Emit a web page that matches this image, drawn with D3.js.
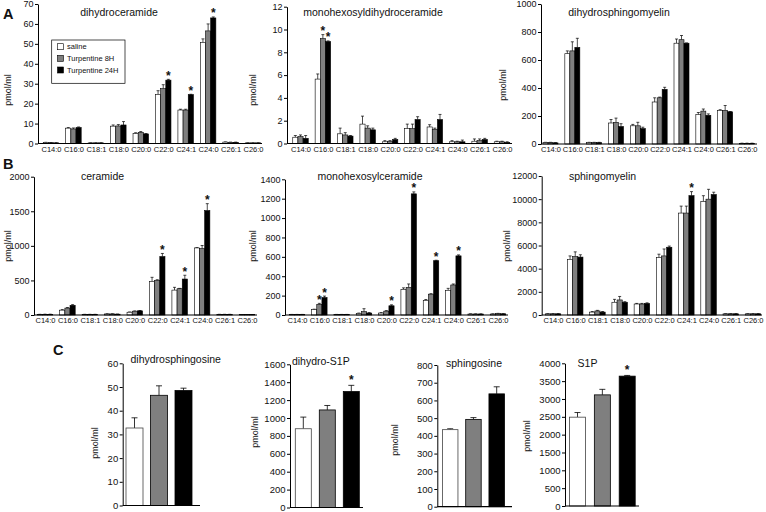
<!DOCTYPE html>
<html><head><meta charset="utf-8">
<script src="https://cdn.jsdelivr.net/npm/d3@7"></script>
<style>
body{margin:0;background:#fff}
svg{display:block}
text{font-family:"Liberation Sans",Arial,Helvetica,sans-serif;fill:#111}
</style>
</head><body><svg id="c" width="766" height="512"></svg>
<script>
// ---------- DATA ----------
const cats = ["C14:0","C16:0","C18:1","C18:0","C20:0","C22:0","C24:1","C24:0","C26:1","C26:0"];
const seriesNames = ["saline","Turpentine 8H","Turpentine 24H"];

// A: dihydroceramide (mean, sd) per series [saline, 8H, 24H]
const dhCerMean = [
  [0.5,7.7,0.3,8.7,5.0,24.6,16.8,50.7,0.7,0.3],
  [0.4,7.3,0.3,8.8,5.6,27.5,16.8,56.5,0.6,0.3],
  [0.3,8.0,0.3,9.3,4.8,31.8,24.5,63.0,0.6,0.3]];
const dhCerErr = [
  [0.1,0.3,0.05,0.6,0.4,1.9,0.4,1.8,0.1,0.05],
  [0.1,0.5,0.05,0.7,0.4,2.0,0.4,3.5,0.1,0.05],
  [0.1,0.3,0.05,1.7,0.2,0.4,0.2,0.5,0.1,0.05]];
const dhCerStars = [[5,2],[6,2],[7,2]];

// A: monohexosyldihydroceramide
const mhDhCerMean = [
  [0.55,5.65,0.85,1.7,0.15,1.3,1.45,0.15,0.2,0.15],
  [0.6,9.2,0.75,1.35,0.2,1.3,1.25,0.15,0.25,0.15],
  [0.45,8.95,0.65,1.2,0.35,2.1,2.1,0.15,0.35,0.1]];
const mhDhCerErr = [
  [0.15,0.45,0.5,0.7,0.1,0.4,0.2,0.1,0.2,0.05],
  [0.15,0.35,0.2,0.2,0.05,0.4,0.1,0.05,0.15,0.05],
  [0.25,0.05,0.05,0.15,0.1,0.25,0.45,0.15,0.1,0.05]];
const mhDhCerStars = [[1,1],[1,2]];

// A: dihydrosphingomyelin
const dhSmMean = [
  [10,645,10,150,130,300,720,210,240,5],
  [10,665,10,155,130,330,745,235,240,5],
  [8,690,10,125,110,390,720,205,230,5]];
const dhSmErr = [
  [2,20,2,25,10,30,30,15,5,1],
  [2,65,2,30,25,5,30,15,35,1],
  [2,65,2,20,10,15,2,10,2,1]];
const dhSmStars = [];

// B: ceramide
const cerMean = [
  [8,70,8,15,40,485,360,970,8,5],
  [10,100,8,15,55,500,380,960,8,5],
  [10,140,8,12,60,845,520,1510,8,5]];
const cerErr = [
  [2,8,2,3,4,60,40,5,2,1],
  [2,8,2,3,4,10,5,45,2,1],
  [2,10,2,2,5,45,55,100,2,1]];
const cerStars = [[5,2],[6,2],[7,2]];

// B: monohexosylceramide
const mhCerMean = [
  [5,55,5,15,20,265,150,255,10,10],
  [5,110,5,35,40,285,215,310,10,15],
  [5,180,5,20,95,1250,560,610,10,12]];
const mhCerErr = [
  [1,5,1,5,5,15,10,20,2,2],
  [1,10,1,30,5,35,5,10,2,2],
  [1,15,1,5,10,20,5,10,2,2]];
const mhCerStars = [[1,1],[1,2],[4,2],[5,2],[6,2],[7,2]];

// B: sphingomyelin
const smMean = [
  [100,4800,250,1100,950,4950,8800,9800,100,100],
  [100,5050,350,1300,950,5100,8800,10000,100,100],
  [100,5000,250,1100,1000,5850,10300,10400,100,100]];
const smErr = [
  [20,300,50,250,50,300,600,500,20,20],
  [20,400,50,300,50,600,600,850,20,20],
  [20,200,50,50,50,100,350,200,20,20]];
const smStars = [[6,2]];

// C: single-value panels
const dhSphMean = [32.7,46.5,48.5],  dhSphErr = [4.3,4.0,1.0],  dhSphStars = [];
const dhS1PMean = [880,1090,1295],   dhS1PErr = [130,50,70],    dhS1PStars = [2];
const sphMean   = [435,493,637],     sphErr   = [5,10,40],      sphStars = [];
const s1pMean   = [2490,3115,3640],  s1pErr   = [130,155,20],   s1pStars = [2];

// ---------- DRAW ----------
const FILL = ["#ffffff","#7f7f7f","#000000"];
const svg = d3.select("#c");

function yAxis(g, y, ticks, x, fs) {
  const a = g.append("g").attr("transform", `translate(${x},0)`)
    .call(d3.axisLeft(y).tickValues(ticks).tickFormat(d3.format("d"))
      .tickSize(3).tickSizeOuter(0).tickPadding(1.5));
  a.select(".domain").attr("stroke", "#000").attr("stroke-width", 1);
  a.selectAll(".tick line").attr("stroke", "#000");
  a.selectAll(".tick text").attr("font-size", fs);
}
function yLabel(g, x, y) {
  g.append("text").attr("transform", `translate(${x},${y}) rotate(-90)`)
    .attr("text-anchor", "middle").attr("dy", "0.35em").attr("font-size", 9).text("pmol/ml");
}
function title(g, t, x, y) {
  g.append("text").attr("x", x).attr("y", y).attr("text-anchor", "middle")
    .attr("font-size", 10.5).text(t);
}

function grouped(p) {
  const g = svg.append("g");
  const x = d3.scalePoint().domain(cats).range([p.c0, p.cN]);
  const xs = d3.scaleBand().domain([0,1,2]).range([-p.gw/2, p.gw/2]);
  const y = d3.scaleLinear().domain([0, p.max]).range([p.yBot, p.yTop]);
  const bw = xs.bandwidth();
  p.mean.forEach((ser, si) => {
    const rows = ser.map((v, i) => ({v, e: p.err[si][i], c: cats[i]}));
    g.selectAll(null).data(rows).join("line")
      .attr("x1", d => x(d.c) + xs(si) + bw/2).attr("x2", d => x(d.c) + xs(si) + bw/2)
      .attr("y1", d => y(d.v)).attr("y2", d => y(d.v + d.e))
      .attr("stroke", "#000").attr("stroke-width", 0.7);
    g.selectAll(null).data(rows).join("line")
      .attr("x1", d => x(d.c) + xs(si) + bw/2 - 1.5).attr("x2", d => x(d.c) + xs(si) + bw/2 + 1.5)
      .attr("y1", d => y(d.v + d.e)).attr("y2", d => y(d.v + d.e))
      .attr("stroke", "#000").attr("stroke-width", 0.7);
    g.selectAll(null).data(rows).join("rect")
      .attr("x", d => x(d.c) + xs(si)).attr("width", bw)
      .attr("y", d => y(d.v)).attr("height", d => Math.max(0, p.yBot - y(d.v)))
      .attr("fill", FILL[si]).attr("stroke", "#000").attr("stroke-width", 0.6);
  });
  g.selectAll(null).data(p.stars).join("text")
    .attr("x", d => x(cats[d[0]]) + xs(d[1]) + bw/2)
    .attr("y", d => y(p.mean[d[1]][d[0]] + p.err[d[1]][d[0]]) + 0.5)
    .attr("text-anchor", "middle").attr("font-size", 12).attr("font-weight", "bold").text("*");
  yAxis(g, y, d3.range(0, p.max + p.step/2, p.step), p.axisX, 9);
  g.append("line").attr("x1", p.axisX).attr("x2", p.xEnd).attr("y1", p.yBot).attr("y2", p.yBot)
    .attr("stroke", "#000").attr("stroke-width", 1);
  const xa = g.append("g").attr("transform", `translate(0,${p.yBot})`)
    .call(d3.axisBottom(x).tickSize(0).tickPadding(p.lp));
  xa.select(".domain").remove();
  xa.selectAll(".tick text").attr("font-size", 7.5);
  title(g, p.title, p.tx, p.ty);
  yLabel(g, p.ylx, p.yly);
  return g;
}

function single(p) {
  const g = svg.append("g");
  const x = d3.scalePoint().domain(seriesNames).range([p.c0, p.c2]);
  const y = d3.scaleLinear().domain([0, p.max]).range([p.yBot, p.yTop]);
  const rows = p.mean.map((v, i) => ({v, e: p.err[i], s: seriesNames[i], i}));
  g.selectAll(null).data(rows).join("line")
    .attr("x1", d => x(d.s)).attr("x2", d => x(d.s))
    .attr("y1", d => y(d.v)).attr("y2", d => y(d.v + d.e))
    .attr("stroke", "#000").attr("stroke-width", 0.8);
  g.selectAll(null).data(rows).join("line")
    .attr("x1", d => x(d.s) - 3).attr("x2", d => x(d.s) + 3)
    .attr("y1", d => y(d.v + d.e)).attr("y2", d => y(d.v + d.e))
    .attr("stroke", "#000").attr("stroke-width", 0.8);
  g.selectAll(null).data(rows).join("rect")
    .attr("x", d => x(d.s) - p.bw/2).attr("width", p.bw)
    .attr("y", d => y(d.v)).attr("height", d => p.yBot - y(d.v))
    .attr("fill", d => FILL[d.i]).attr("stroke", d => d.i === 0 ? "#444" : "#000").attr("stroke-width", 0.8);
  g.selectAll(null).data(p.stars).join("text")
    .attr("x", d => x(seriesNames[d]))
    .attr("y", d => y(p.mean[d] + p.err[d]) - 1)
    .attr("text-anchor", "middle").attr("font-size", 12).attr("font-weight", "bold").text("*");
  yAxis(g, y, d3.range(0, p.max + p.step/2, p.step), p.axisX, 9.5);
  g.append("line").attr("x1", p.axisX).attr("x2", p.xEnd).attr("y1", p.yBot).attr("y2", p.yBot)
    .attr("stroke", "#000").attr("stroke-width", 1.2);
  title(g, p.title, p.tx, p.ty);
  yLabel(g, p.ylx, p.yly);
}

// Row A
grouped({mean: dhCerMean, err: dhCerErr, stars: dhCerStars, max: 70, step: 10,
  axisX: 38, c0: 51, cN: 253, gw: 15.5, xEnd: 262, yTop: 4, yBot: 143.5, lp: 3,
  title: "dihydroceramide", tx: 119, ty: 16, ylx: 8, yly: 90});
grouped({mean: mhDhCerMean, err: mhDhCerErr, stars: mhDhCerStars, max: 12, step: 2,
  axisX: 287, c0: 300.5, cN: 502, gw: 15.5, xEnd: 512, yTop: 6.7, yBot: 143.5, lp: 3,
  title: "monohexosyldihydroceramide", tx: 373, ty: 16, ylx: 253, yly: 90});
grouped({mean: dhSmMean, err: dhSmErr, stars: dhSmStars, max: 1000, step: 200,
  axisX: 541, c0: 550.5, cN: 747, gw: 15, xEnd: 757, yTop: 4, yBot: 144, lp: 3,
  title: "dihydrosphingomyelin", tx: 619, ty: 16, ylx: 503, yly: 85});

// Row B
grouped({mean: cerMean, err: cerErr, stars: cerStars, max: 2000, step: 500,
  axisX: 34, c0: 45, cN: 247, gw: 15.5, xEnd: 257, yTop: 176.7, yBot: 315, lp: 2.5,
  title: "ceramide", tx: 102.5, ty: 180, ylx: 8, yly: 246});
grouped({mean: mhCerMean, err: mhCerErr, stars: mhCerStars, max: 1400, step: 200,
  axisX: 285, c0: 297, cN: 498, gw: 15.5, xEnd: 508, yTop: 179.3, yBot: 315, lp: 2.5,
  title: "monohexosylceramide", tx: 370, ty: 180, ylx: 253, yly: 246});
grouped({mean: smMean, err: smErr, stars: smStars, max: 12000, step: 2000,
  axisX: 541.7, c0: 553, cN: 753, gw: 15.5, xEnd: 762, yTop: 176, yBot: 315, lp: 2.5,
  title: "sphingomyelin", tx: 602.5, ty: 180, ylx: 507, yly: 246});

// Row C
single({mean: dhSphMean, err: dhSphErr, stars: dhSphStars, max: 60, step: 10,
  axisX: 122.7, c0: 134.5, c2: 183.5, bw: 17, xEnd: 200, yTop: 363.3, yBot: 505.5,
  title: "dihydrosphingosine", tx: 175.7, ty: 362.5, ylx: 95, yly: 443});
single({mean: dhS1PMean, err: dhS1PErr, stars: dhS1PStars, max: 1600, step: 200,
  axisX: 290, c0: 303.3, c2: 351.3, bw: 16, xEnd: 363, yTop: 364.3, yBot: 507.5,
  title: "dihydro-S1P", tx: 320.8, ty: 364.5, ylx: 255, yly: 432});
single({mean: sphMean, err: sphErr, stars: sphStars, max: 800, step: 100,
  axisX: 437.3, c0: 450.2, c2: 496.7, bw: 15.5, xEnd: 512, yTop: 365, yBot: 506.7,
  title: "sphingosine", tx: 474, ty: 367, ylx: 395, yly: 440});
single({mean: s1pMean, err: s1pErr, stars: s1pStars, max: 4000, step: 500,
  axisX: 565, c0: 577.5, c2: 627.2, bw: 16, xEnd: 639, yTop: 363.3, yBot: 506,
  title: "S1P", tx: 587.5, ty: 367, ylx: 526.7, yly: 436});

// Legend (panel A, dihydroceramide)
const lg = svg.append("g");
lg.append("rect").attr("x", 51.7).attr("y", 40).attr("width", 73.3).attr("height", 43.3)
  .attr("fill", "#fff").attr("stroke", "#000").attr("stroke-width", 0.7);
const ly = d3.scalePoint().domain(seriesNames).range([46.7, 70]);
lg.selectAll(null).data(seriesNames).join("rect")
  .attr("x", 57.5).attr("y", d => ly(d) - 3).attr("width", 6).attr("height", 6)
  .attr("fill", (d, i) => FILL[i]).attr("stroke", "#000").attr("stroke-width", 0.6);
lg.selectAll(null).data(seriesNames).join("text")
  .attr("x", 67).attr("y", d => ly(d)).attr("dy", "0.35em").attr("font-size", 7.5).text(d => d);

// Panel letters
[["A", 3, 18.5], ["B", 3, 169], ["C", 53, 355]].forEach(([t, x, y]) =>
  svg.append("text").attr("x", x).attr("y", y).attr("font-size", 14.5).attr("font-weight", "bold").text(t));
</script></body></html>
